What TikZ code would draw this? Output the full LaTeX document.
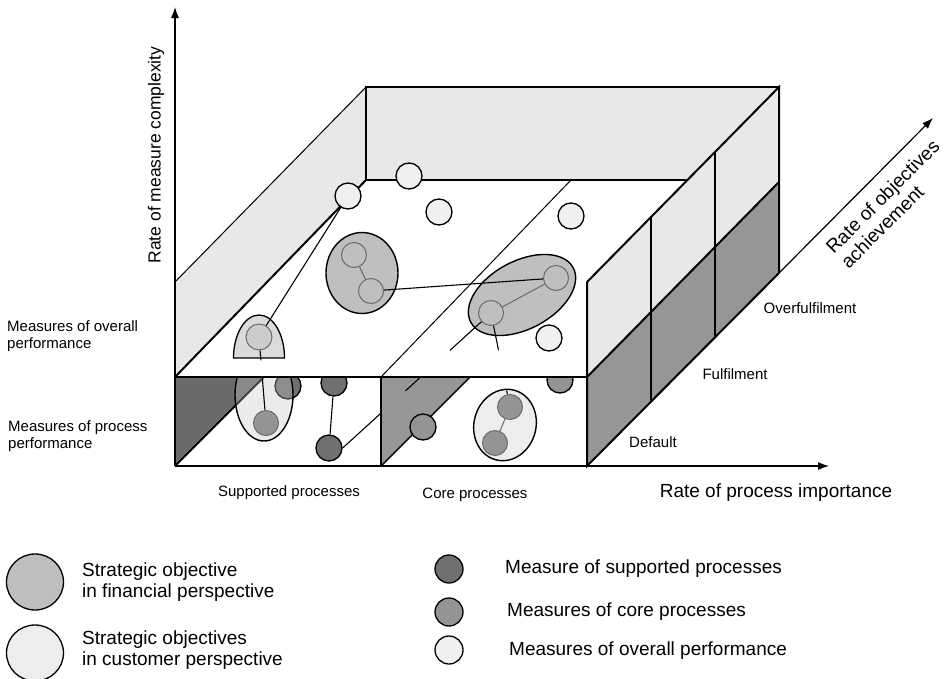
\documentclass[tikz,border=0pt]{standalone}
\usepackage{fontspec}
\setmainfont{Liberation Sans}
\usetikzlibrary{shapes.geometric,arrows.meta}
\definecolor{wallg}{gray}{0.91}
\definecolor{lowg}{gray}{0.59}
\definecolor{darkg}{gray}{0.42}
\definecolor{finf}{gray}{0.75}
\definecolor{cusf}{gray}{0.93}
\definecolor{supf}{gray}{0.44}
\definecolor{coref}{gray}{0.58}
\definecolor{ovf}{gray}{0.94}
\definecolor{domef}{gray}{0.86}
\definecolor{inln}{gray}{0.42}
\tikzset{
 edgeT/.style={line width=2pt},
 edgem/.style={line width=1.4pt},
 edget/.style={line width=1pt},
 meas/.style={circle, draw=black, line width=1.3pt, minimum size=26pt, inner sep=0pt},
 supm/.style={meas, fill=supf},
 corem/.style={meas, fill=coref},
 ovm/.style={meas, fill=ovf},
 inf/.style={circle, draw=inln, line width=1pt, minimum size=25pt, inner sep=0pt, fill=finf},
 inc/.style={circle, draw=inln, line width=1pt, minimum size=25pt, inner sep=0pt, fill=coref},
 finobj/.style={ellipse, draw=black, line width=1.4pt, fill=finf, inner sep=0pt},
 cusobj/.style={ellipse, draw=black, line width=1.4pt, fill=cusf, inner sep=0pt},
 conn/.style={line width=1.1pt},
 iconn/.style={line width=1pt, draw=inln},
 axis/.style={line width=1.2pt, -{Latex[length=11pt,width=8pt]}},
 lbl/.style={font=\fontsize{15}{17}\selectfont, inner sep=0pt},
 axlbl/.style={font=\fontsize{19}{21}\selectfont, inner sep=0pt},
 leg/.style={font=\fontsize{19}{21}\selectfont, inner sep=0pt, align=left, anchor=west},
}
\begin{document}
\begin{tikzpicture}[x=1pt,y=-1pt]
\fill[white] (0,0) rectangle (945,678);
\useasboundingbox (0,0) rectangle (945,678);

% back wall and left wall
\fill[wallg] (366,87) rectangle (779,180);
\fill[wallg] (175,282) -- (366,87) -- (366,180) -- (175,377) -- cycle;
\draw[edget] (175,282) -- (366,87);
\draw[edgeT] (366,180) -- (366,87) -- (779,87);
\draw[edgeT] (366,180) -- (688,180);
\draw[edgeT] (175,377) -- (366,180);
\draw[edget] (381,377) -- (571,180);

% lower layer
\begin{scope}
\clip (175,377) rectangle (587,466);
\fill[darkg] (175,377) -- (175,466) -- (264,377) -- cycle;
\fill[lowg] (381,377) -- (381,466) -- (470,377) -- cycle;
\draw[edgeT] (175,466) -- (264,377);
\draw[edgem] (381,466) -- (470,377);
\node[supm] (s3) at (288,386) {};
\node[supm] (s1) at (334,383) {};
\node[corem] (c3) at (560,380) {};
\node[cusobj, fill=black!22, fill opacity=0.34, minimum width=58pt, minimum height=92pt] (cl) at (264,395) {};
\end{scope}
\node[inc] (lcc) at (266,423) {};
\node[supm] (s2) at (329,448) {};
\node[corem] (c2) at (423,427) {};
\node[cusobj, minimum width=62pt, minimum height=72pt, rotate=-15] (cr) at (505,425) {};
\node[inc] (lc1) at (510,407) {};
\node[inc] (lc2) at (495,443) {};
\draw[iconn] (lc1) -- (lc2);
\draw[conn] (s1) -- (s2);
\draw[edgem] (381,377) -- (381,466);
\draw[edgeT] (175,377) -- (587,377);

% upper layer objects
\filldraw[fill=domef, draw=black, line width=1.3pt] (233.5,358) arc[start angle=180, end angle=0, x radius=25.5pt, y radius=43pt] -- cycle;
\node[circle, draw=inln, line width=1pt, minimum size=26pt, inner sep=0pt, fill=black!20] (dc) at (259,337) {};
\node[finobj, minimum width=72pt, minimum height=81pt] (fl) at (362,273) {};
\node[inf] (fc1) at (354,255) {};
\node[inf] (fc2) at (371,291) {};
\draw[iconn] (fc1) -- (fc2);
\node[finobj, minimum width=116pt, minimum height=68pt, rotate=28] (fr) at (522,295) {};
\node[inf] (fr1) at (491,313) {};
\node[inf] (fr2) at (556,278) {};
\draw[iconn] (fr1) -- (fr2);
\draw[conn] (fc2) -- (fr2);
\node[ovm] (o1) at (348,196) {};
\node[ovm] (o2) at (409,176) {};
\node[ovm] (o3) at (439,212) {};
\node[ovm] (o4) at (571,216) {};
\node[ovm] (o5) at (549,338) {};
\draw[conn] (o1) -- (dc);
\draw[conn, dash pattern=on 51pt off 34pt on 20pt off 40pt on 120pt] (s2.east) -- (fr1);
\draw[conn, dash pattern=on 25pt off 41pt on 100pt] (fr1) -- (lc1);
\draw[conn, dash pattern=on 10pt off 18pt on 100pt] (dc) -- (lcc);

% right wall
\fill[wallg] (587,282) -- (779,87) -- (779,182) -- (587,377) -- cycle;
\fill[lowg] (587,377) -- (779,182) -- (779,273) -- (587,466) -- cycle;
\draw[edgem] (651,217) -- (651,401.7);
\draw[edgem] (715,152) -- (715,337.3);
\draw[edgeT] (587,282) -- (779,87) -- (779,273);
\draw[edgeT] (587,282) -- (587,466) -- (779,273);
\draw[edgeT] (587,377) -- (779,182);

% axes
\coordinate (O) at (175,466);
\coordinate (Ytip) at (175,7);
\coordinate (Xtip) at (829,466);
\coordinate (Zb) at (779,273);
\coordinate (Ztip) at (933,118);
\draw[axis] (O) -- (Ytip);
\draw[axis] (O) -- (Xtip);
\draw[axis] (Zb) -- (Ztip);

% labels
\node[axlbl, font=\fontsize{17.5}{20}\selectfont, rotate=90] (ylab) at (156,155) {Rate of measure complexity};
\node[axlbl] (xlab) at (776,493) {Rate of process importance};
\node[axlbl, rotate=45, align=left] (zlab) at (890,204) {Rate of objectives\\achievement};
\node[lbl] (ovl) at (810,308) {Overfulfilment};
\node[lbl] (ful) at (735,374) {Fulfilment};
\node[lbl] (del) at (653,442) {Default};
\node[lbl, anchor=west, align=left] (mo) at (7,336.5) {Measures of overall\\performance};
\node[lbl, anchor=west, align=left] (mp) at (8,436.5) {Measures of process\\performance};
\node[lbl] (spl) at (289,493) {Supported processes};
\node[lbl] (cpl) at (475,495) {Core processes};

% legend
\node[finobj, line width=1.3pt, minimum width=57pt, minimum height=56pt] (lg1) at (35,582) {};
\node[cusobj, line width=1.3pt, minimum width=57pt, minimum height=56pt] (lg2) at (35,653) {};
\node[leg] (lt1) at (82,582.5) {Strategic objective\\in financial perspective};
\node[leg] (lt2) at (82,650.5) {Strategic objectives\\in customer perspective};
\node[supm, minimum size=28pt] (lm1) at (449,569) {};
\node[corem, minimum size=28pt] (lm2) at (449,612) {};
\node[ovm, minimum size=28pt] (lm3) at (449,650) {};
\node[leg] (lt3) at (505,569) {Measure of supported processes};
\node[leg] (lt4) at (507,612) {Measures of core processes};
\node[leg] (lt5) at (509,651) {Measures of overall performance};
\end{tikzpicture}
\end{document}
